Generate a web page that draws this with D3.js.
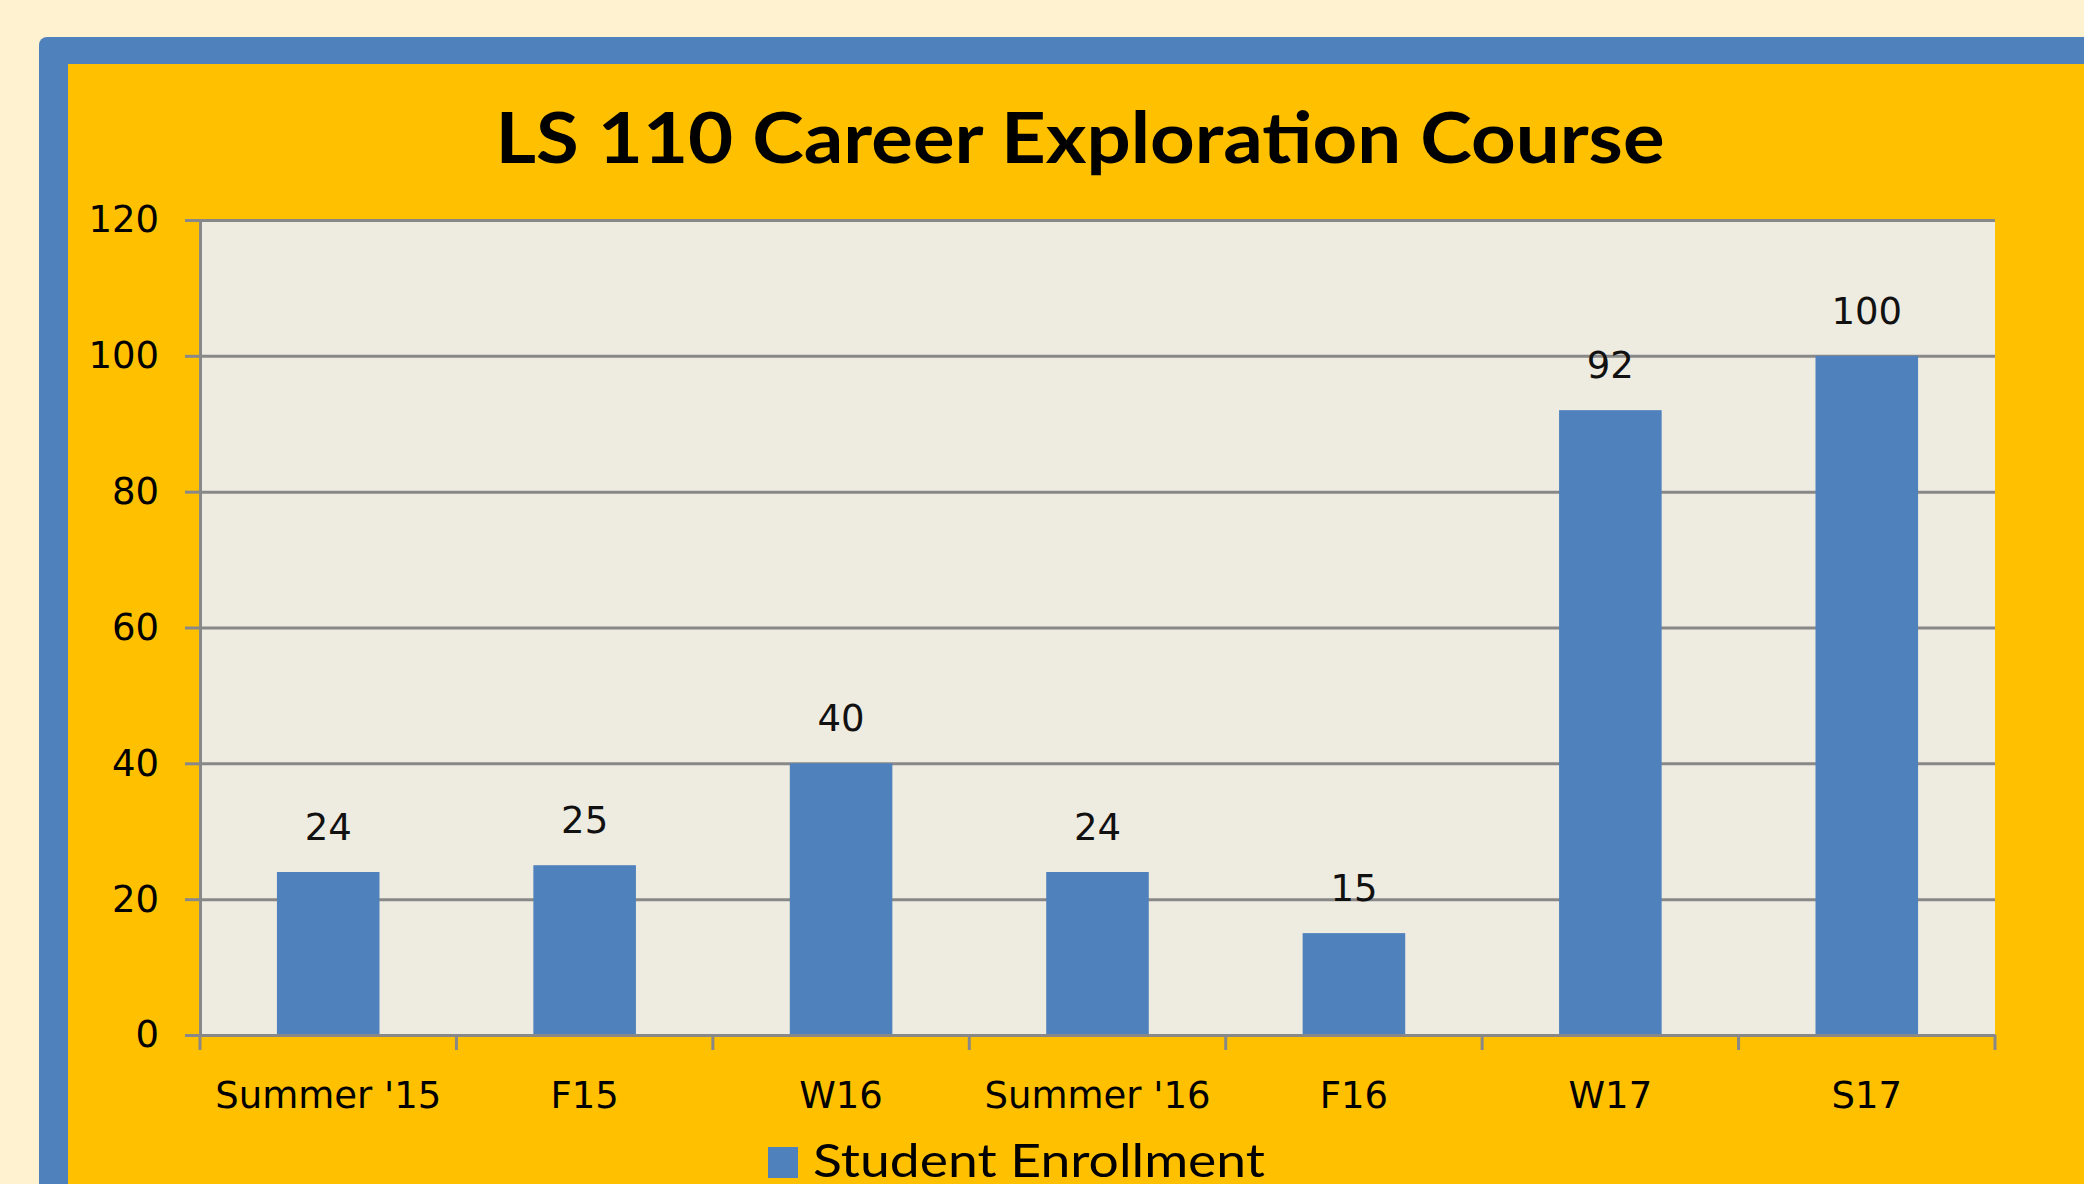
<!DOCTYPE html>
<html lang="en">
<head>
<meta charset="UTF-8">
<title>LS 110 Career Exploration Course</title>
<script src="https://cdn.jsdelivr.net/npm/d3@7/dist/d3.min.js"></script>
<style>
    * { margin: 0; padding: 0; }
    body { background: #fff2d0; }
    svg { display: block; }
</style>
</head>
<body>
<div id="chart"></div>
<script>
    // data
    const chartTitle = "LS 110 Career Exploration Course";
    const seriesName = "Student Enrollment";
    const categories = ["Summer '15", "F15", "W16", "Summer '16", "F16", "W17", "S17"];
    const enrollment = [24, 25, 40, 24, 15, 92, 100];
    const yTicks = [0, 20, 40, 60, 80, 100, 120];

    const svgWidth = 2084;
    const svgHeight = 1184;

    // plot area
    const plot = { left: 200, right: 1995, top: 220, bottom: 1035 };
    const plotW = plot.right - plot.left;
    const plotH = plot.bottom - plot.top;

    const gridColor = '#888888';
    const barColor = '#4f81bd';

    const svg = d3.select('#chart')
        .append('svg')
        .attr('width', svgWidth)
        .attr('height', svgHeight);

    // outer frame: cream page, blue border, yellow chart area
    svg.append('rect')
        .attr('width', svgWidth).attr('height', svgHeight)
        .attr('fill', '#fff2d0');
    svg.append('rect')
        .attr('x', 39).attr('y', 37)
        .attr('width', 2300).attr('height', 1400)
        .attr('rx', 8)
        .attr('fill', '#4f81bd');
    svg.append('rect')
        .attr('x', 68).attr('y', 64)
        .attr('width', 2300).attr('height', 1400)
        .attr('fill', '#ffc000');

    // title
    svg.append('text')
        .attr('x', 1080)
        .attr('y', 163)
        .attr('text-anchor', 'middle')
        .attr('font-family', 'Lato, "Open Sans", sans-serif')
        .attr('font-weight', 'bold')
        .attr('font-size', '70px')
        .attr('fill', '#000')
        .attr('textLength', 1169)
        .attr('lengthAdjust', 'spacingAndGlyphs')
        .text(chartTitle);

    // scales
    const x = d3.scaleBand()
        .domain(categories)
        .range([plot.left, plot.right])
        .paddingInner(0.6)
        .paddingOuter(0.3);

    const y = d3.scaleLinear()
        .domain([0, d3.max(yTicks)])
        .range([plot.bottom, plot.top]);

    // plot background
    svg.append('rect')
        .attr('x', plot.left).attr('y', plot.top)
        .attr('width', plotW).attr('height', plotH)
        .attr('fill', '#eeebe0');

    // gridlines
    const gridG = svg.append('g')
        .attr('transform', `translate(${plot.left},0)`)
        .call(d3.axisLeft(y).tickValues(yTicks).tickSize(-plotW).tickFormat(''));
    gridG.select('.domain').remove();
    gridG.selectAll('line')
        .attr('stroke', gridColor)
        .attr('stroke-width', 3);

    // bars
    svg.append('g')
        .selectAll('rect')
        .data(enrollment)
        .enter()
        .append('rect')
        .attr('x', (d, i) => x(categories[i]))
        .attr('y', d => y(d))
        .attr('width', x.bandwidth())
        .attr('height', d => y(0) - y(d))
        .attr('fill', barColor);

    // value labels
    svg.append('g')
        .selectAll('text')
        .data(enrollment)
        .enter()
        .append('text')
        .attr('x', (d, i) => x(categories[i]) + x.bandwidth() / 2)
        .attr('y', d => y(d) - 32)
        .attr('text-anchor', 'middle')
        .attr('font-family', '"DejaVu Sans", Verdana, sans-serif')
        .attr('font-size', '37px')
        .attr('fill', '#111')
        .text(d => d);

    // y axis
    const yAxisG = svg.append('g')
        .attr('transform', `translate(${plot.left},0)`)
        .call(d3.axisLeft(y).tickValues(yTicks).tickSize(15).tickSizeOuter(0).tickPadding(26));
    yAxisG.select('.domain')
        .attr('stroke', gridColor)
        .attr('stroke-width', 3);
    yAxisG.selectAll('line')
        .attr('stroke', gridColor)
        .attr('stroke-width', 3);
    yAxisG.selectAll('text')
        .attr('font-family', '"DejaVu Sans", Verdana, sans-serif')
        .attr('font-size', '37px')
        .attr('fill', '#000');

    // x axis: labels at band centres, tick marks at band edges
    const xAxisG = svg.append('g')
        .attr('transform', `translate(0,${plot.bottom})`)
        .call(d3.axisBottom(x).tickSize(0).tickSizeOuter(0));
    xAxisG.select('.domain')
        .attr('stroke', gridColor)
        .attr('stroke-width', 3);
    xAxisG.selectAll('text')
        .attr('y', 73)
        .attr('dy', 0)
        .attr('font-family', '"DejaVu Sans", Verdana, sans-serif')
        .attr('font-size', '37px')
        .attr('fill', '#000');

    const edges = d3.range(categories.length + 1).map(i => plot.left + i * x.step());
    xAxisG.selectAll('.edge')
        .data(edges)
        .enter()
        .append('line')
        .attr('class', 'edge')
        .attr('x1', d => d).attr('x2', d => d)
        .attr('y1', 0).attr('y2', 15)
        .attr('stroke', gridColor)
        .attr('stroke-width', 3);

    // legend
    const legend = svg.append('g');
    legend.append('rect')
        .attr('x', 768).attr('y', 1147)
        .attr('width', 30).attr('height', 31)
        .attr('fill', barColor);
    legend.append('text')
        .attr('x', 813)
        .attr('y', 1177)
        .attr('font-family', 'Lato, "Open Sans", sans-serif')
        .attr('font-size', '47px')
        .attr('fill', '#000')
        .attr('textLength', 452)
        .attr('lengthAdjust', 'spacingAndGlyphs')
        .text(seriesName);
</script>
</body>
</html>
